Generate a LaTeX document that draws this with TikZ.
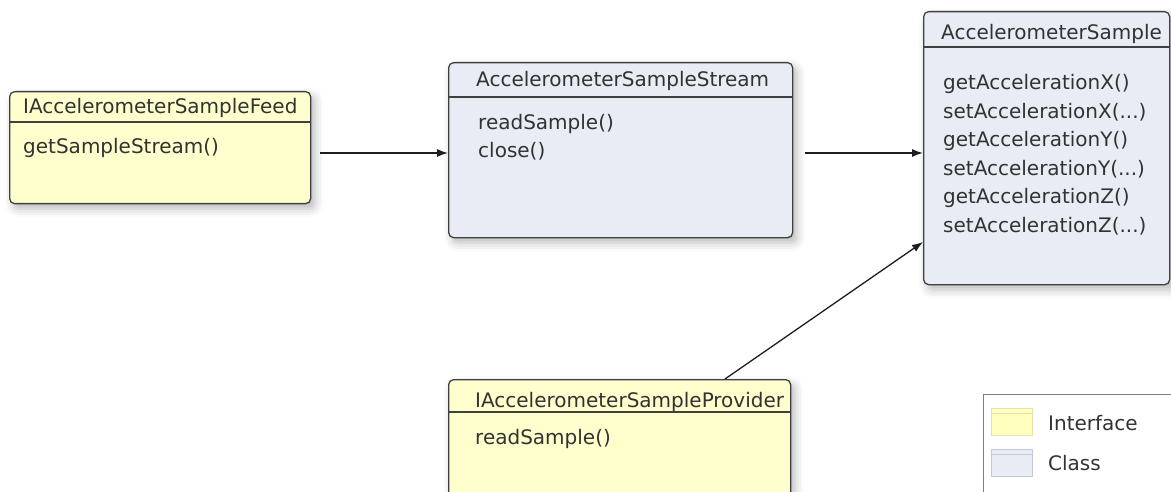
\documentclass[tikz,border=0pt]{standalone}
\usepackage{fontspec}
\setmainfont{DejaVu Sans}
\usetikzlibrary{arrows.meta,shadows.blur}
\definecolor{ifacefill}{RGB}{255,255,206}
\definecolor{clsfill}{RGB}{232,236,245}
\definecolor{boxline}{RGB}{64,64,64}
\definecolor{txtcol}{RGB}{50,50,50}
\definecolor{conncol}{RGB}{30,30,30}
\definecolor{legline}{RGB}{128,128,128}
\definecolor{ifaceswline}{RGB}{226,226,170}
\definecolor{clsswline}{RGB}{196,200,212}

\begin{document}
\begin{tikzpicture}[x=1pt,y=-1pt,
  umlbox/.style={draw=boxline, line width=1.3pt, rounded corners=5pt, anchor=north west, inner sep=0pt,
    blur shadow={shadow xshift=4pt, shadow yshift=-5pt, shadow blur radius=9pt, shadow opacity=28}},
  iface/.style={umlbox, fill=ifacefill},
  cls/.style={umlbox, fill=clsfill},
  sep/.style={draw=boxline, line width=1.2pt},
  txt/.style={anchor=base west, inner sep=0pt, text=txtcol, font=\fontsize{20}{24}\selectfont},
  conn/.style={->, >={Latex[length=11pt,width=8pt]}, conncol, line width=1.3pt},
  swatch/.style={anchor=north west, inner sep=0pt, minimum width=41pt, minimum height=27pt, line width=0.8pt}]
\clip (0,0) rectangle (1171,492);

% boxes
\node[iface, minimum width=301pt, minimum height=112pt] (feed) at (9,91) {};
\node[cls, minimum width=344pt, minimum height=175pt] (stream) at (448,62) {};
\node[cls, minimum width=246pt, minimum height=273pt] (sample) at (923,11) {};
\node[iface, minimum width=342pt, minimum height=140pt] (provider) at (448,379) {};

\draw[sep] ([yshift=-31pt]feed.north west) -- ([yshift=-31pt]feed.north east);
\draw[sep] ([yshift=-35pt]stream.north west) -- ([yshift=-35pt]stream.north east);
\draw[sep] ([yshift=-36pt]sample.north west) -- ([yshift=-36pt]sample.north east);
\draw[sep] ([yshift=-33pt]provider.north west) -- ([yshift=-33pt]provider.north east);

% texts
\node[txt] (feedT) at (23,114) {IAccelerometerSampleFeed};
\node[txt] (feedM1) at (23,154) {getSampleStream()};

\node[txt] (streamT) at (476,87) {AccelerometerSampleStream};
\node[txt] (streamM1) at (478,130) {readSample()};
\node[txt] (streamM2) at (478,158) {close()};

\node[txt] (sampleT) at (941,40) {AccelerometerSample};
\node[txt] (sampleM1) at (943,90) {getAccelerationX()};
\node[txt] (sampleM2) at (943,118.5) {setAccelerationX(...)};
\node[txt] (sampleM3) at (943,147) {getAccelerationY()};
\node[txt] (sampleM4) at (943,175.5) {setAccelerationY(...)};
\node[txt] (sampleM5) at (943,204) {getAccelerationZ()};
\node[txt] (sampleM6) at (943,232.5) {setAccelerationZ(...)};

\node[txt] (provT) at (475,407) {IAccelerometerSampleProvider};
\node[txt] (provM1) at (475,444) {readSample()};

% connectors
\coordinate (feedOut) at (320,153);
\coordinate (streamOut) at (805,153);
\coordinate (provOut) at (725,379);
\coordinate (sampleIn) at (923,242);

\path[conn] (feedOut) edge (stream.west |- feedOut);
\path[conn] (streamOut) edge (sample.west |- streamOut);
\path[conn] (provOut) edge (sample.west |- sampleIn);

% legend
\node[draw=legline, line width=1pt, anchor=north west, minimum width=220pt, minimum height=120pt] (legend) at (983,394) {};
\node[swatch, draw=ifaceswline, fill=ifacefill!92!yellow] (swI) at (991,408) {};
\draw[ifaceswline, line width=0.8pt] ([yshift=-5pt]swI.north west) -- ([yshift=-5pt]swI.north east);
\node[txt] (legI) at (1048,430) {Interface};
\node[swatch, draw=clsswline, fill=clsfill] (swC) at (991,449) {};
\draw[clsswline, line width=0.8pt] ([yshift=-5pt]swC.north west) -- ([yshift=-5pt]swC.north east);
\node[txt] (legC) at (1048,470) {Class};

\end{tikzpicture}
\end{document}
